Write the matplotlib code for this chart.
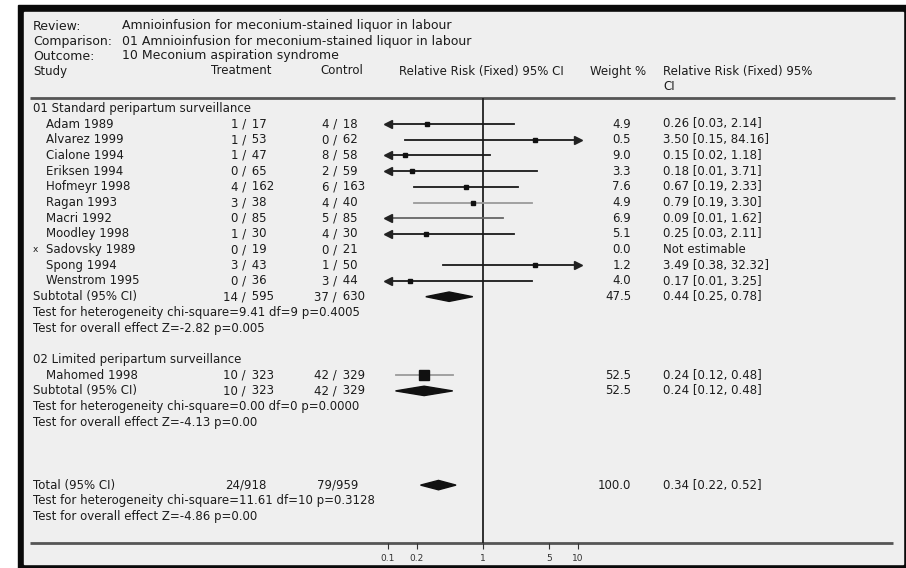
import matplotlib.pyplot as plt
from matplotlib.patches import Rectangle, Polygon
from matplotlib.ticker import NullLocator

# header
review = "Amnioinfusion for meconium-stained liquor in labour"
comparison = "01 Amnioinfusion for meconium-stained liquor in labour"
outcome = "10 Meconium aspiration syndrome"

# study level data
studies = ["Adam 1989", "Alvarez 1999", "Cialone 1994", "Eriksen 1994", "Hofmeyr 1998",
           "Ragan 1993", "Macri 1992", "Moodley 1998", "Sadovsky 1989", "Spong 1994",
           "Wenstrom 1995", "Mahomed 1998"]
group_of = [1, 1, 1, 1, 1, 1, 1, 1, 1, 1, 1, 2]
treat_events = [1, 1, 1, 0, 4, 3, 0, 1, 0, 3, 0, 10]
treat_n = [17, 53, 47, 65, 162, 38, 85, 30, 19, 43, 36, 323]
ctrl_events = [4, 0, 8, 2, 6, 4, 5, 4, 0, 1, 3, 42]
ctrl_n = [18, 62, 58, 59, 163, 40, 85, 30, 21, 50, 44, 329]
rr = [0.26, 3.50, 0.15, 0.18, 0.67, 0.79, 0.09, 0.25, None, 3.49, 0.17, 0.24]
rr_lo = [0.03, 0.15, 0.02, 0.01, 0.19, 0.19, 0.01, 0.03, None, 0.38, 0.01, 0.12]
rr_hi = [2.14, 84.16, 1.18, 3.71, 2.33, 3.30, 1.62, 2.11, None, 32.32, 3.25, 0.48]
weights = [4.9, 0.5, 9.0, 3.3, 7.6, 4.9, 6.9, 5.1, 0.0, 1.2, 4.0, 52.5]

# subgroups
group_names = ["01 Standard peripartum surveillance", "02 Limited peripartum surveillance"]
sub_treat = ["14 / 595", "10 / 323"]
sub_ctrl = ["37 / 630", "42 / 329"]
sub_rr = [0.44, 0.24]
sub_lo = [0.25, 0.12]
sub_hi = [0.78, 0.48]
sub_weight = [47.5, 52.5]
sub_het = ["Test for heterogeneity chi-square=9.41 df=9 p=0.4005",
           "Test for heterogeneity chi-square=0.00 df=0 p=0.0000"]
sub_effect = ["Test for overall effect Z=-2.82 p=0.005",
              "Test for overall effect Z=-4.13 p=0.00"]

# total
total_treat = "24/918"
total_ctrl = "79/959"
total_rr, total_lo, total_hi = 0.34, 0.22, 0.52
total_het = "Test for heterogeneity chi-square=11.61 df=10 p=0.3128"
total_effect = "Test for overall effect Z=-4.86 p=0.00"

axis_ticks = [0.1, 0.2, 1, 5, 10]
axis_labels = ["0.1", "0.2", "1", "5", "10"]

# layout in pixels (906 x 568 canvas)
W, H = 906, 568
ROW0, STEP = 124, 15.7
TOP_LINE, BOT_LINE = 98, 543
X_LEFT, X_RIGHT = 388, 578
ink = "#1c1c1c"
fs = 8.5


def ypx(r):
    return ROW0 + STEP * r


def rowv(px):
    return (px - ROW0) / STEP


fig = plt.figure(figsize=(W / 100, H / 100), dpi=100)
fig.patch.set_facecolor("white")
bg = fig.add_axes([0, 0, 1, 1])
bg.set_xlim(0, W)
bg.set_ylim(H, 0)
bg.axis("off")

# scanned page frame
bg.add_patch(Rectangle((18, 5), W - 18, H - 5, color="#0a0a0a", zorder=0))
bg.add_patch(Rectangle((24, 12), 879, 552, color="#efefef", zorder=0))


def txt(x, y, s, ha="left", size=fs):
    bg.text(x, y, s, ha=ha, va="center", fontsize=size, color=ink)


txt(33, 26, "Review:", size=9)
txt(122, 26, review, size=9)
txt(33, 41, "Comparison:", size=9)
txt(122, 41, comparison, size=9)
txt(33, 56, "Outcome:", size=9)
txt(122, 56, outcome, size=9)
txt(33, 71, "Study")
txt(211, 71, "Treatment")
txt(320, 71, "Control")
txt(399, 71, "Relative Risk (Fixed) 95% CI")
txt(590, 71, "Weight %")
txt(663, 71, "Relative Risk (Fixed) 95%")
txt(663, 86, "CI")

bg.plot([30, 895], [TOP_LINE, TOP_LINE], color="#555555", lw=2, solid_capstyle="butt")
bg.plot([30, 893], [BOT_LINE, BOT_LINE], color="#555555", lw=2, solid_capstyle="butt")

# forest panel on a log scale
fa = fig.add_axes([X_LEFT / W, 1 - BOT_LINE / H, (X_RIGHT - X_LEFT) / W, (BOT_LINE - TOP_LINE) / H])
fa.set_xscale("log")
fa.set_xlim(0.1, 10)
fa.set_ylim(rowv(BOT_LINE), rowv(TOP_LINE))
fa.patch.set_alpha(0)
for sp in fa.spines.values():
    sp.set_visible(False)
fa.set_yticks([])
fa.set_xticks(axis_ticks)
fa.set_xticklabels(axis_labels)
fa.xaxis.set_minor_locator(NullLocator())
fa.tick_params(axis="x", direction="out", length=4, width=0.8, labelsize=6.5,
               pad=4, colors="#333333")
fa.axvline(1, color="#222222", lw=1.3)

# greyish CI lines as printed in the scan
shade = {"Ragan 1993": "#9a9a9a", "Macri 1992": "#666666", "Mahomed 1998": "#9a9a9a"}


def diamond(r, est, lo, hi, h=0.3):
    fa.add_patch(Polygon([(lo, r), (est, r - h), (hi, r), (est, r + h)],
                         closed=True, color="#111111", zorder=4))


def fmt_n(y, e, n):
    txt(246, y, f"{e} /", ha="right")
    txt(248, y, f" {n}")


def fmt_c(y, e, n):
    txt(337, y, f"{e} /", ha="right")
    txt(339, y, f" {n}")


row = -1
for g in (1, 2):
    txt(33, ypx(row), group_names[g - 1])
    row += 1
    for i, name in enumerate(studies):
        if group_of[i] != g:
            continue
        y = ypx(row)
        if rr[i] is None:
            txt(33, y, "x", size=6.5)
        txt(46, y, name)
        fmt_n(y, treat_events[i], treat_n[i])
        fmt_c(y, ctrl_events[i], ctrl_n[i])
        txt(631, y, f"{weights[i]:.1f}", ha="right")
        if rr[i] is None:
            txt(663, y, "Not estimable")
        else:
            txt(663, y, f"{rr[i]:.2f} [{rr_lo[i]:.2f}, {rr_hi[i]:.2f}]")
            col = shade.get(name, "#1a1a1a")
            lo = max(rr_lo[i], 0.1)
            hi = min(rr_hi[i], 10)
            fa.plot([lo, hi], [row, row], color=col, lw=1.3, zorder=2)
            msz = max(3.0, 0.95 * weights[i] ** 0.5)
            fa.plot(rr[i], row, marker="s", ms=msz, color="#111111", zorder=3)
            if rr_lo[i] < 0.1:
                fa.plot(0.1, row, marker="<", ms=5.5, color="#222222", clip_on=False, zorder=3)
            if rr_hi[i] > 10:
                fa.plot(10, row, marker=">", ms=5.5, color="#222222", clip_on=False, zorder=3)
        row += 1
    y = ypx(row)
    txt(33, y, "Subtotal (95% CI)")
    e, n = sub_treat[g - 1].split(" / ")
    fmt_n(y, e, n)
    e, n = sub_ctrl[g - 1].split(" / ")
    fmt_c(y, e, n)
    txt(631, y, f"{sub_weight[g - 1]:.1f}", ha="right")
    txt(663, y, f"{sub_rr[g - 1]:.2f} [{sub_lo[g - 1]:.2f}, {sub_hi[g - 1]:.2f}]")
    diamond(row, sub_rr[g - 1], sub_lo[g - 1], sub_hi[g - 1])
    txt(33, ypx(row + 1), sub_het[g - 1])
    txt(33, ypx(row + 2), sub_effect[g - 1])
    row += 4

row = 23
y = ypx(row)
txt(33, y, "Total (95% CI)")
txt(246, y, total_treat, ha="center")
txt(338, y, total_ctrl, ha="center")
txt(631, y, f"{sum(sub_weight):.1f}", ha="right")
txt(663, y, f"{total_rr:.2f} [{total_lo:.2f}, {total_hi:.2f}]")
diamond(row, total_rr, total_lo, total_hi)
txt(33, ypx(row + 1), total_het)
txt(33, ypx(row + 2), total_effect)

fig.savefig("out.png", dpi=100, facecolor=fig.get_facecolor())
